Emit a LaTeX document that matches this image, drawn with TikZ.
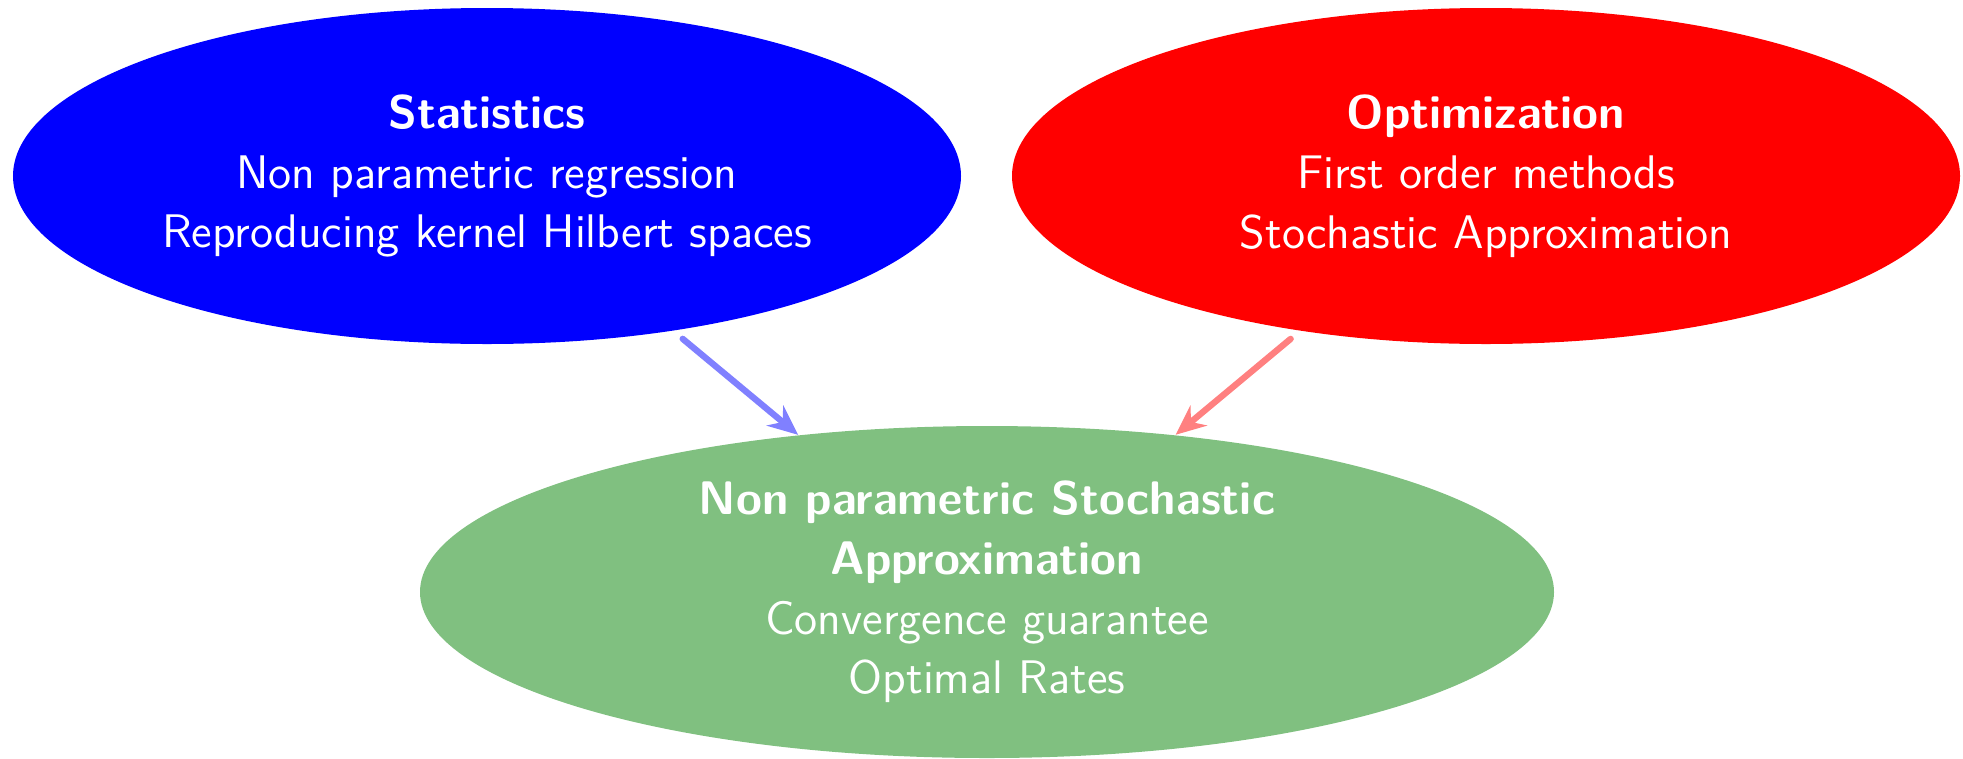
\documentclass[tikz,border=0pt]{standalone}
\usepackage{tikz}
\usetikzlibrary{arrows.meta,shapes.geometric,positioning}
\definecolor{nsagreen}{RGB}{128,192,128}

\begin{document}
\begin{tikzpicture}[>={Stealth[length=3mm,width=2.6mm,inset=1mm]},
		field/.style={ellipse,inner sep=0pt,text=white,align=center,
			font=\fontsize{13.4}{17}\selectfont\sffamily},
		link/.style={->,line width=1.8pt,line cap=round,shorten <=1.2mm}]
		\useasboundingbox (0,0) rectangle (19.63,7.58);
		\node[field,fill=blue,minimum width=9.48cm,minimum height=3.36cm] (stat) at (4.87,5.82)
			{\textbf{Statistics}\\Non parametric regression\\Reproducing kernel Hilbert spaces};
		\node[field,fill=red,minimum width=9.48cm,minimum height=3.36cm] (optim) at (14.86,5.82)
			{\textbf{Optimization}\\First order methods\\Stochastic Approximation};
		\node[field,fill=nsagreen,minimum width=11.34cm,minimum height=3.32cm] (nsa) at (9.87,1.66)
			{\textbf{Non parametric Stochastic}\\\textbf{Approximation}\\Convergence guarantee\\Optimal Rates};
		\draw[link,blue!50] (stat) -- (nsa);
		\draw[link,red!50] (optim) -- (nsa);
	\end{tikzpicture}
\end{document}
